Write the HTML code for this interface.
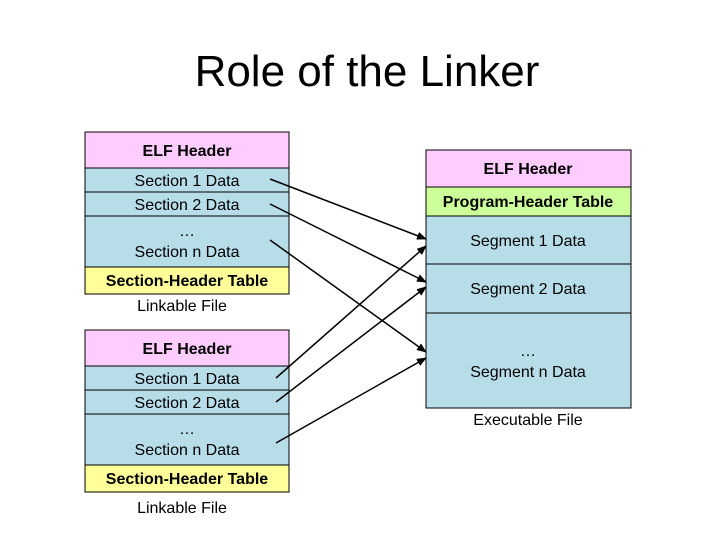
<!DOCTYPE html>
<html><head><meta charset="utf-8"><style>
html,body{margin:0;padding:0;background:#fff;}
svg{display:block;}
text{font-family:"Liberation Sans",Arial,sans-serif;}
</style></head><body>
<svg width="720" height="540" viewBox="0 0 720 540" xmlns="http://www.w3.org/2000/svg">
<defs><marker id="a" markerWidth="10" markerHeight="8" refX="9" refY="4" orient="auto" markerUnits="userSpaceOnUse"><path d="M0,0 L10,4 L0,8 z" fill="#000"/></marker></defs>
<text x="367" y="86" font-size="44" text-anchor="middle">Role of the Linker</text>
<g stroke="#000" stroke-width="1">
<rect x="85" y="132" width="204" height="36" fill="#ffccff"/>
<rect x="85" y="168" width="204" height="24" fill="#b7dde8"/>
<rect x="85" y="192" width="204" height="24" fill="#b7dde8"/>
<rect x="85" y="216" width="204" height="51" fill="#b7dde8"/>
<rect x="85" y="267" width="204" height="27" fill="#ffff99"/>
<rect x="85" y="330" width="204" height="36" fill="#ffccff"/>
<rect x="85" y="366" width="204" height="24" fill="#b7dde8"/>
<rect x="85" y="390" width="204" height="24" fill="#b7dde8"/>
<rect x="85" y="414" width="204" height="51" fill="#b7dde8"/>
<rect x="85" y="465" width="204" height="27" fill="#ffff99"/>
<rect x="426" y="150" width="205" height="37" fill="#ffccff"/>
<rect x="426" y="187" width="205" height="29" fill="#ccff99"/>
<rect x="426" y="216" width="205" height="48" fill="#b7dde8"/>
<rect x="426" y="264" width="205" height="49" fill="#b7dde8"/>
<rect x="426" y="313" width="205" height="95" fill="#b7dde8"/>
</g>
<g font-size="16" text-anchor="middle">
<text x="187" y="156" font-weight="bold">ELF Header</text>
<text x="187" y="186">Section 1 Data</text>
<text x="187" y="210">Section 2 Data</text>
<text x="187" y="236">…</text>
<text x="187" y="257">Section n Data</text>
<text x="187" y="286" font-weight="bold">Section-Header Table</text>
<text x="182" y="311">Linkable File</text>
<text x="187" y="354" font-weight="bold">ELF Header</text>
<text x="187" y="384">Section 1 Data</text>
<text x="187" y="408">Section 2 Data</text>
<text x="187" y="434">…</text>
<text x="187" y="455">Section n Data</text>
<text x="187" y="484" font-weight="bold">Section-Header Table</text>
<text x="182" y="513">Linkable File</text>
<text x="528" y="174" font-weight="bold">ELF Header</text>
<text x="528" y="207" font-weight="bold">Program-Header Table</text>
<text x="528" y="246">Segment 1 Data</text>
<text x="528" y="294">Segment 2 Data</text>
<text x="528" y="356">…</text>
<text x="528" y="377">Segment n Data</text>
<text x="528" y="425">Executable File</text>
</g>
<g stroke="#000" stroke-width="1.5" marker-end="url(#a)">
<line x1="270" y1="179" x2="426" y2="239"/>
<line x1="270" y1="204" x2="426" y2="282"/>
<line x1="270" y1="240" x2="426" y2="352"/>
<line x1="276" y1="378" x2="426" y2="246"/>
<line x1="276" y1="402" x2="426" y2="287"/>
<line x1="276" y1="443" x2="426" y2="358"/>
</g>
</svg>
</body></html>
